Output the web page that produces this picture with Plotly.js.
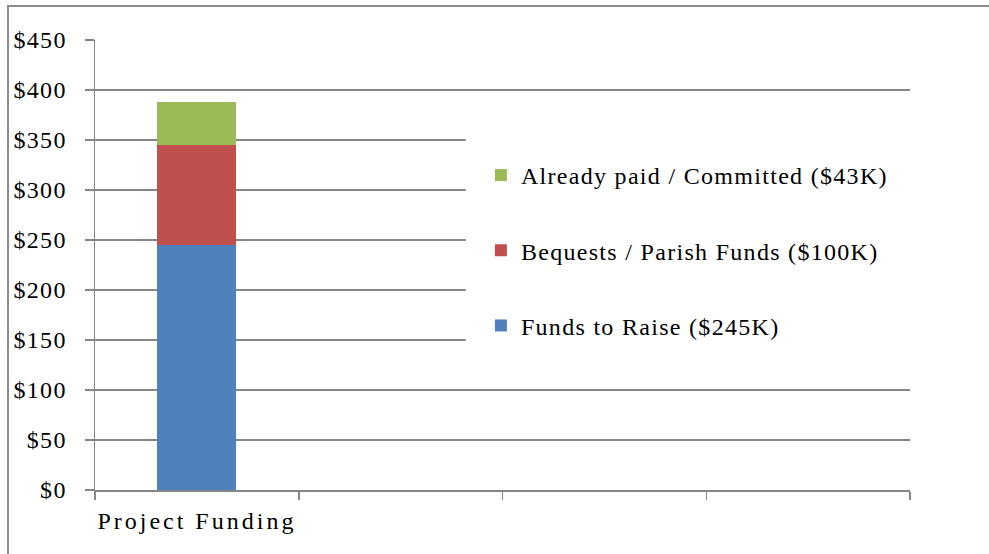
<!DOCTYPE html>
<html>
<head>
<meta charset="utf-8">
<script src="https://cdn.plot.ly/plotly-3.0.1.min.js"></script>
<style>
  html, body { margin: 0; padding: 0; background: #fff; }
  #wrap { position: relative; width: 989px; height: 554px; overflow: hidden; }
  #chart { position: absolute; left: 0; top: 0; width: 989px; height: 554px; }
  #frame { position: absolute; left: 7px; top: 5px; width: 1000px; height: 600px;
           border-top: 2px solid #8c8c8c; border-left: 2px solid #8c8c8c; pointer-events: none; }
  #chart .ytick text { letter-spacing: 1.3px; }
  #chart .xtick text { letter-spacing: 3px; }
  #chart .legendtext { letter-spacing: 1.3px; }
  #chart .legend .scrollbox, #chart .legend { clip-path: none !important; }
</style>
</head>
<body>
<div id="wrap">
  <div id="chart"></div>
  <div id="frame"></div>
</div>
<script>
// Data
const categories = ["Project Funding", " ", "  ", "   "];
const fundsToRaise = [245, null, null, null];
const bequests = [100, null, null, null];
const alreadyPaid = [43, null, null, null];
const seriesNames = ["Funds to Raise ($245K)", "Bequests / Parish Funds ($100K)", "Already paid / Committed ($43K)"];
const seriesColors = ["#4F81BD", "#C0504D", "#9BBB59"];
const legendRanks = [3, 2, 1];
const yTickVals = [0, 50, 100, 150, 200, 250, 300, 350, 400, 450];
const yTickText = ["$0", "$50", "$100", "$150", "$200", "$250", "$300", "$350", "$400", "$450"];

const font = "Liberation Serif, Times New Roman, serif";
const grid = "#868686";

const seriesValues = [fundsToRaise, bequests, alreadyPaid];
const traces = seriesValues.map((vals, i) => ({
  type: "bar",
  x: categories,
  y: vals,
  name: seriesNames[i],
  legendgroup: "g" + i,
  legendrank: legendRanks[i],
  marker: { color: seriesColors[i] },
  hoverinfo: "skip"
}));

const layout = {
  width: 989,
  height: 554,
  margin: { l: 95, r: 79, t: 40, b: 64 },
  paper_bgcolor: "#ffffff",
  plot_bgcolor: "#ffffff",
  barmode: "stack",
  bargap: 0.612,
  showlegend: true,
  font: { family: font, color: "#000", size: 24 },
  legend: {
    x: 0.4735, xanchor: "left",
    y: 0.749, yanchor: "top",
    bgcolor: "rgba(0,0,0,0)",
    traceorder: "grouped",
    tracegroupgap: 41,
    itemclick: false,
    font: { family: font, size: 24, color: "#000" }
  },
  xaxis: {
    type: "category",
    categoryorder: "array",
    categoryarray: categories,
    range: [-0.5, 3.5],
    showgrid: false,
    showline: true,
    linecolor: grid,
    linewidth: 1.5,
    ticks: "outside",
    tickson: "boundaries",
    ticklen: 8,
    tickwidth: 1.5,
    tickcolor: grid,
    ticklabelstandoff: 9,
    tickfont: { family: font, size: 24, color: "#000" },
    fixedrange: true,
    zeroline: false
  },
  yaxis: {
    range: [0, 450],
    tickvals: yTickVals,
    ticktext: yTickText,
    showgrid: true,
    gridcolor: grid,
    gridwidth: 2,
    showline: true,
    linecolor: grid,
    linewidth: 1.5,
    ticks: "outside",
    ticklen: 9,
    tickwidth: 1.5,
    tickcolor: grid,
    ticklabelstandoff: 13,
    tickfont: { family: font, size: 24, color: "#000" },
    zeroline: false,
    fixedrange: true
  },
  shapes: [{
    type: "rect", xref: "paper", yref: "y", layer: "above",
    x0: 0.455, x1: 1.0, y0: 115, y1: 372,
    fillcolor: "#ffffff", line: { width: 0 }
  }]
};

Plotly.newPlot("chart", traces, layout, { displayModeBar: false, staticPlot: true });
</script>
</body>
</html>
